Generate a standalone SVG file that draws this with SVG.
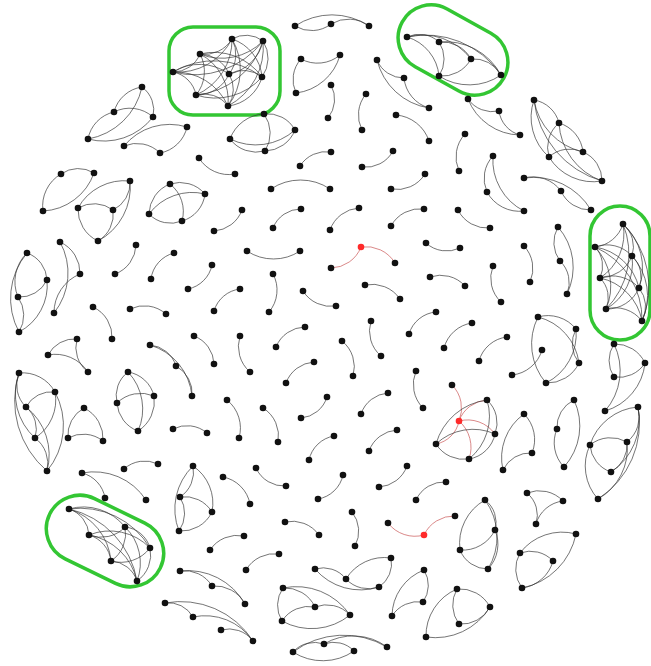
<svg xmlns="http://www.w3.org/2000/svg" width="651" height="666" viewBox="0 0 651 666">
<style>
.bg{fill:#fff}
#edges path{fill:none;stroke:#333;stroke-width:0.8;stroke-opacity:0.85}
#edges path.r{stroke:#c85050}
.nodes circle{fill:#111}
.nodes .red circle{fill:#ff2a2a}
.hl{fill:none;stroke:#33c633;stroke-width:3.5}
</style>
<rect class="bg" x="0" y="0" width="651" height="666"/>
<g id="highlights">
<rect class="hl" x="169" y="27" width="111" height="88" rx="24"/>
<rect class="hl" x="-58" y="-33" width="116" height="66" rx="33" transform="translate(453,50) rotate(29)"/>
<rect class="hl" x="590" y="206" width="60" height="134" rx="30"/>
<rect class="hl" x="-61.5" y="-33.5" width="123" height="67" rx="33.5" transform="translate(105,541) rotate(26)"/>
</g>
<g id="edges">
<path d="M114 112A34 34 0 0 1 142 87"/>
<path d="M142 87A29 29 0 0 1 153 117"/>
<path d="M114 112A35 35 0 0 1 153 117"/>
<path d="M88 139A34 34 0 0 1 114 112"/>
<path d="M142 87A67 67 0 0 1 88 139"/>
<path d="M153 117A62 62 0 0 1 88 139"/>
<path d="M124 146A59 59 0 0 1 187 127"/>
<path d="M124 146A33 33 0 0 1 160 153"/>
<path d="M187 127A34 34 0 0 1 160 153"/>
<path d="M235 174A35 35 0 0 1 199 158"/>
<path d="M232 39A28 28 0 0 1 263 41"/>
<path d="M232 39A32 32 0 0 1 200 54"/>
<path d="M232 39A61 61 0 0 1 173 72"/>
<path d="M232 39A32 32 0 0 1 229 74"/>
<path d="M232 39A44 44 0 0 1 262 77"/>
<path d="M232 39A60 60 0 0 1 196 95"/>
<path d="M232 39A60 60 0 0 1 228 106"/>
<path d="M263 41A58 58 0 0 1 200 54"/>
<path d="M263 41A86 86 0 0 1 173 72"/>
<path d="M263 41A43 43 0 0 1 229 74"/>
<path d="M263 41A32 32 0 0 1 262 77"/>
<path d="M263 41A77 77 0 0 1 196 95"/>
<path d="M263 41A66 66 0 0 1 228 106"/>
<path d="M200 54A29 29 0 0 1 173 72"/>
<path d="M200 54A32 32 0 0 1 229 74"/>
<path d="M200 54A59 59 0 0 1 262 77"/>
<path d="M200 54A37 37 0 0 1 196 95"/>
<path d="M200 54A53 53 0 0 1 228 106"/>
<path d="M173 72A50 50 0 0 1 229 74"/>
<path d="M173 72A80 80 0 0 1 262 77"/>
<path d="M173 72A29 29 0 0 1 196 95"/>
<path d="M173 72A58 58 0 0 1 228 106"/>
<path d="M229 74A30 30 0 0 1 262 77"/>
<path d="M229 74A35 35 0 0 1 196 95"/>
<path d="M229 74A29 29 0 0 1 228 106"/>
<path d="M262 77A62 62 0 0 1 196 95"/>
<path d="M262 77A40 40 0 0 1 228 106"/>
<path d="M196 95A30 30 0 0 1 228 106"/>
<path d="M331 24A32 32 0 0 1 295 26"/>
<path d="M331 24A34 34 0 0 1 369 26"/>
<path d="M295 26A67 67 0 0 1 369 26"/>
<path d="M340 55A35 35 0 0 1 301 59"/>
<path d="M296 93A31 31 0 0 1 301 59"/>
<path d="M340 55A52 52 0 0 1 296 93"/>
<path d="M331 85A30 30 0 0 1 328 118"/>
<path d="M362 130A33 33 0 0 1 366 94"/>
<path d="M404 78A29 29 0 0 1 377 60"/>
<path d="M429 108A64 64 0 0 1 377 60"/>
<path d="M429 108A35 35 0 0 1 404 78"/>
<path d="M396 115A38 38 0 0 1 429 141"/>
<path d="M264 114A31 31 0 0 1 295 130"/>
<path d="M230 139A38 38 0 0 1 264 114"/>
<path d="M264 114A33 33 0 0 1 265 151"/>
<path d="M295 130A59 59 0 0 1 230 139"/>
<path d="M265 151A33 33 0 0 1 230 139"/>
<path d="M295 130A33 33 0 0 1 265 151"/>
<path d="M300 166A31 31 0 0 1 331 152"/>
<path d="M393 151A31 31 0 0 1 362 167"/>
<path d="M407 37A29 29 0 0 1 439 42"/>
<path d="M407 37A61 61 0 0 1 471 59"/>
<path d="M407 37A45 45 0 0 1 439 76"/>
<path d="M407 37A91 91 0 0 1 501 75"/>
<path d="M439 42A33 33 0 0 1 471 59"/>
<path d="M439 42A31 31 0 0 1 439 76"/>
<path d="M439 42A63 63 0 0 1 501 75"/>
<path d="M471 59A33 33 0 0 1 439 76"/>
<path d="M471 59A31 31 0 0 1 501 75"/>
<path d="M501 75A56 56 0 0 1 439 76"/>
<path d="M499 111A30 30 0 0 1 468 99"/>
<path d="M520 135A57 57 0 0 1 468 99"/>
<path d="M520 135A29 29 0 0 1 499 111"/>
<path d="M459 171A34 34 0 0 1 465 134"/>
<path d="M487 192A33 33 0 0 1 493 156"/>
<path d="M524 211A57 57 0 0 1 493 156"/>
<path d="M524 211A37 37 0 0 1 487 192"/>
<path d="M549 157A53 53 0 0 1 534 100"/>
<path d="M534 100A31 31 0 0 1 559 123"/>
<path d="M583 152A64 64 0 0 1 534 100"/>
<path d="M602 181A95 95 0 0 1 534 100"/>
<path d="M549 157A32 32 0 0 1 559 123"/>
<path d="M559 123A34 34 0 0 1 583 152"/>
<path d="M602 181A65 65 0 0 1 559 123"/>
<path d="M549 157A31 31 0 0 1 583 152"/>
<path d="M602 181A52 52 0 0 1 549 157"/>
<path d="M583 152A31 31 0 0 1 602 181"/>
<path d="M524 178A35 35 0 0 1 561 191"/>
<path d="M524 178A67 67 0 0 1 591 210"/>
<path d="M591 210A32 32 0 0 1 561 191"/>
<path d="M61 174A30 30 0 0 1 94 173"/>
<path d="M43 211A37 37 0 0 1 61 174"/>
<path d="M94 173A57 57 0 0 1 43 211"/>
<path d="M78 208A53 53 0 0 1 130 181"/>
<path d="M78 208A32 32 0 0 1 113 210"/>
<path d="M98 241A35 35 0 0 1 78 208"/>
<path d="M113 210A31 31 0 0 1 98 241"/>
<path d="M130 181A61 61 0 0 1 98 241"/>
<path d="M130 181A30 30 0 0 1 113 210"/>
<path d="M149 214A33 33 0 0 1 170 184"/>
<path d="M170 184A35 35 0 0 1 182 221"/>
<path d="M149 214A54 54 0 0 1 205 194"/>
<path d="M182 221A30 30 0 0 1 149 214"/>
<path d="M205 194A32 32 0 0 1 182 221"/>
<path d="M170 184A33 33 0 0 1 205 194"/>
<path d="M27 253A30 30 0 0 1 47 280"/>
<path d="M18 297A40 40 0 0 1 27 253"/>
<path d="M19 332A71 71 0 0 1 27 253"/>
<path d="M47 280A30 30 0 0 1 18 297"/>
<path d="M47 280A53 53 0 0 1 19 332"/>
<path d="M18 297A32 32 0 0 1 19 332"/>
<path d="M60 242A34 34 0 0 1 80 274"/>
<path d="M60 242A64 64 0 0 1 54 313"/>
<path d="M54 313A42 42 0 0 1 80 274"/>
<path d="M136 245A32 32 0 0 1 115 274"/>
<path d="M151 279A31 31 0 0 1 174 253"/>
<path d="M212 265A31 31 0 0 1 188 289"/>
<path d="M93 307A33 33 0 0 1 112 339"/>
<path d="M130 309A33 33 0 0 1 166 314"/>
<path d="M214 311A31 31 0 0 1 240 289"/>
<path d="M242 210A32 32 0 0 1 214 231"/>
<path d="M271 189A53 53 0 0 1 330 189"/>
<path d="M425 174A33 33 0 0 1 391 189"/>
<path d="M273 228A30 30 0 0 1 301 209"/>
<path d="M330 230A33 33 0 0 1 359 208"/>
<path d="M391 226A33 33 0 0 1 424 209"/>
<path d="M300 251A48 48 0 0 1 247 251"/>
<path class="r" d="M361 247A33 33 0 0 1 331 268"/>
<path class="r" d="M361 247A34 34 0 0 1 395 263"/>
<path d="M460 248A31 31 0 0 1 426 243"/>
<path d="M273 274A34 34 0 0 1 269 312"/>
<path d="M336 306A33 33 0 0 1 303 291"/>
<path d="M365 285A34 34 0 0 1 400 299"/>
<path d="M430 277A33 33 0 0 1 465 286"/>
<path d="M381 356A33 33 0 0 1 371 321"/>
<path d="M276 347A32 32 0 0 1 305 327"/>
<path d="M250 372A34 34 0 0 1 240 336"/>
<path d="M490 228A33 33 0 0 1 458 210"/>
<path d="M524 246A33 33 0 0 1 530 282"/>
<path d="M501 302A33 33 0 0 1 493 266"/>
<path d="M560 261A31 31 0 0 1 558 227"/>
<path d="M558 227A61 61 0 0 1 567 294"/>
<path d="M560 261A30 30 0 0 1 567 294"/>
<path d="M623 224A33 33 0 0 1 595 247"/>
<path d="M623 224A30 30 0 0 1 632 256"/>
<path d="M623 224A53 53 0 0 1 600 278"/>
<path d="M623 224A59 59 0 0 1 639 288"/>
<path d="M623 224A78 78 0 0 1 606 309"/>
<path d="M623 224A89 89 0 0 1 642 321"/>
<path d="M595 247A34 34 0 0 1 632 256"/>
<path d="M595 247A28 28 0 0 1 600 278"/>
<path d="M595 247A54 54 0 0 1 639 288"/>
<path d="M595 247A57 57 0 0 1 606 309"/>
<path d="M595 247A79 79 0 0 1 642 321"/>
<path d="M632 256A35 35 0 0 1 600 278"/>
<path d="M632 256A29 29 0 0 1 639 288"/>
<path d="M632 256A53 53 0 0 1 606 309"/>
<path d="M632 256A59 59 0 0 1 642 321"/>
<path d="M600 278A36 36 0 0 1 639 288"/>
<path d="M600 278A28 28 0 0 1 606 309"/>
<path d="M600 278A54 54 0 0 1 642 321"/>
<path d="M639 288A35 35 0 0 1 606 309"/>
<path d="M639 288A30 30 0 0 1 642 321"/>
<path d="M606 309A34 34 0 0 1 642 321"/>
<path d="M48 355A30 30 0 0 1 77 339"/>
<path d="M48 355A39 39 0 0 1 88 372"/>
<path d="M88 372A31 31 0 0 1 77 339"/>
<path d="M150 345A30 30 0 0 1 176 366"/>
<path d="M150 345A59 59 0 0 1 192 396"/>
<path d="M176 366A31 31 0 0 1 192 396"/>
<path d="M194 336A31 31 0 0 1 214 364"/>
<path d="M19 373A37 37 0 0 1 55 392"/>
<path d="M26 407A31 31 0 0 1 19 373"/>
<path d="M35 438A60 60 0 0 1 19 373"/>
<path d="M47 471A92 92 0 0 1 19 373"/>
<path d="M26 407A29 29 0 0 1 55 392"/>
<path d="M55 392A45 45 0 0 1 35 438"/>
<path d="M55 392A71 71 0 0 1 47 471"/>
<path d="M26 407A29 29 0 0 1 35 438"/>
<path d="M26 407A61 61 0 0 1 47 471"/>
<path d="M35 438A32 32 0 0 1 47 471"/>
<path d="M68 438A31 31 0 0 1 84 408"/>
<path d="M84 408A34 34 0 0 1 103 441"/>
<path d="M68 438A32 32 0 0 1 103 441"/>
<path d="M128 372A32 32 0 0 1 154 396"/>
<path d="M117 403A30 30 0 0 1 128 372"/>
<path d="M128 372A54 54 0 0 1 138 431"/>
<path d="M117 403A34 34 0 0 1 154 396"/>
<path d="M154 396A35 35 0 0 1 138 431"/>
<path d="M138 431A32 32 0 0 1 117 403"/>
<path d="M173 429A31 31 0 0 1 207 433"/>
<path d="M124 469A31 31 0 0 1 158 464"/>
<path d="M82 473A31 31 0 0 1 105 498"/>
<path d="M82 473A62 62 0 0 1 146 500"/>
<path d="M193 466A30 30 0 0 1 180 497"/>
<path d="M193 466A45 45 0 0 1 212 512"/>
<path d="M179 531A60 60 0 0 1 193 466"/>
<path d="M180 497A32 32 0 0 1 212 512"/>
<path d="M212 512A34 34 0 0 1 179 531"/>
<path d="M180 497A31 31 0 0 1 179 531"/>
<path d="M286 383A32 32 0 0 1 314 362"/>
<path d="M342 341A33 33 0 0 1 353 376"/>
<path d="M423 408A34 34 0 0 1 416 371"/>
<path d="M227 400A36 36 0 0 1 239 438"/>
<path d="M263 408A33 33 0 0 1 278 442"/>
<path d="M327 397A30 30 0 0 1 301 418"/>
<path d="M361 414A31 31 0 0 1 388 393"/>
<path d="M309 460A31 31 0 0 1 334 436"/>
<path d="M369 451A32 32 0 0 1 397 430"/>
<path d="M286 486A31 31 0 0 1 256 468"/>
<path d="M223 477A34 34 0 0 1 250 504"/>
<path d="M343 475A31 31 0 0 1 318 499"/>
<path d="M407 466A32 32 0 0 1 379 487"/>
<path d="M416 500A31 31 0 0 1 446 482"/>
<path d="M409 334A31 31 0 0 1 436 312"/>
<path d="M444 348A34 34 0 0 1 472 323"/>
<path d="M479 361A33 33 0 0 1 507 337"/>
<path d="M542 350A35 35 0 0 1 512 375"/>
<path d="M546 383A60 60 0 0 1 538 317"/>
<path d="M538 317A55 55 0 0 1 579 363"/>
<path d="M576 329A55 55 0 0 1 546 383"/>
<path d="M579 363A31 31 0 0 1 576 329"/>
<path d="M579 363A35 35 0 0 1 546 383"/>
<path d="M538 317A36 36 0 0 1 576 329"/>
<path d="M614 344A33 33 0 0 1 645 363"/>
<path d="M645 363A31 31 0 0 1 614 377"/>
<path d="M614 377A30 30 0 0 1 614 344"/>
<path d="M614 344A61 61 0 0 1 605 411"/>
<path d="M645 363A56 56 0 0 1 605 411"/>
<path class="r" d="M452 385A33 33 0 0 1 459 421"/>
<path class="r" d="M459 421A32 32 0 0 1 487 400"/>
<path class="r" d="M459 421A34 34 0 0 1 495 434"/>
<path class="r" d="M459 421A29 29 0 0 1 436 444"/>
<path class="r" d="M459 421A35 35 0 0 1 469 459"/>
<path d="M436 444A61 61 0 0 1 487 400"/>
<path d="M487 400A55 55 0 0 1 469 459"/>
<path d="M487 400A31 31 0 0 1 495 434"/>
<path d="M436 444A54 54 0 0 1 495 434"/>
<path d="M469 459A33 33 0 0 1 436 444"/>
<path d="M495 434A32 32 0 0 1 469 459"/>
<path d="M524 414A36 36 0 0 1 532 453"/>
<path d="M503 470A54 54 0 0 1 524 414"/>
<path d="M503 470A30 30 0 0 1 532 453"/>
<path d="M557 429A30 30 0 0 1 574 400"/>
<path d="M574 400A61 61 0 0 1 564 467"/>
<path d="M564 467A35 35 0 0 1 557 429"/>
<path d="M590 445A55 55 0 0 1 638 407"/>
<path d="M638 407A33 33 0 0 1 627 442"/>
<path d="M638 407A63 63 0 0 1 611 472"/>
<path d="M638 407A90 90 0 0 1 598 499"/>
<path d="M590 445A33 33 0 0 1 627 442"/>
<path d="M611 472A31 31 0 0 1 590 445"/>
<path d="M598 499A49 49 0 0 1 590 445"/>
<path d="M627 442A31 31 0 0 1 611 472"/>
<path d="M627 442A58 58 0 0 1 598 499"/>
<path d="M527 493A29 29 0 0 1 536 524"/>
<path d="M527 493A33 33 0 0 1 563 501"/>
<path d="M536 524A32 32 0 0 1 563 501"/>
<path d="M285 522A33 33 0 0 1 319 535"/>
<path d="M352 512A31 31 0 0 1 355 546"/>
<path class="r" d="M424 535A34 34 0 0 1 388 523"/>
<path class="r" d="M424 535A33 33 0 0 1 455 516"/>
<path d="M210 550A33 33 0 0 1 244 536"/>
<path d="M246 570A33 33 0 0 1 279 554"/>
<path d="M315 569A29 29 0 0 1 346 579"/>
<path d="M379 587A60 60 0 0 1 315 569"/>
<path d="M346 579A45 45 0 0 1 391 558"/>
<path d="M379 587A31 31 0 0 1 346 579"/>
<path d="M391 558A28 28 0 0 1 379 587"/>
<path d="M283 588A33 33 0 0 1 315 607"/>
<path d="M282 621A30 30 0 0 1 283 588"/>
<path d="M315 607A32 32 0 0 1 350 615"/>
<path d="M282 621A32 32 0 0 1 315 607"/>
<path d="M350 615A61 61 0 0 1 282 621"/>
<path d="M283 588A65 65 0 0 1 350 615"/>
<path d="M293 652A29 29 0 0 1 324 644"/>
<path d="M354 651A55 55 0 0 1 293 652"/>
<path d="M324 644A28 28 0 0 1 354 651"/>
<path d="M324 644A57 57 0 0 1 387 647"/>
<path d="M293 652A85 85 0 0 1 387 647"/>
<path d="M392 616A50 50 0 0 1 424 570"/>
<path d="M424 570A29 29 0 0 1 423 602"/>
<path d="M392 616A31 31 0 0 1 423 602"/>
<path d="M426 637A51 51 0 0 1 457 589"/>
<path d="M457 589A34 34 0 0 1 490 607"/>
<path d="M459 624A32 32 0 0 1 457 589"/>
<path d="M490 607A32 32 0 0 1 459 624"/>
<path d="M490 607A64 64 0 0 1 426 637"/>
<path d="M485 500A28 28 0 0 1 495 530"/>
<path d="M460 550A50 50 0 0 1 485 500"/>
<path d="M485 500A62 62 0 0 1 488 569"/>
<path d="M495 530A36 36 0 0 1 460 550"/>
<path d="M495 530A36 36 0 0 1 488 569"/>
<path d="M488 569A30 30 0 0 1 460 550"/>
<path d="M520 553A53 53 0 0 1 576 534"/>
<path d="M576 534A69 69 0 0 1 522 588"/>
<path d="M520 553A31 31 0 0 1 553 561"/>
<path d="M522 588A32 32 0 0 1 520 553"/>
<path d="M553 561A37 37 0 0 1 522 588"/>
<path d="M180 571A32 32 0 0 1 212 586"/>
<path d="M180 571A66 66 0 0 1 245 604"/>
<path d="M212 586A34 34 0 0 1 245 604"/>
<path d="M165 603A28 28 0 0 1 193 617"/>
<path d="M165 603A86 86 0 0 1 253 641"/>
<path d="M193 617A58 58 0 0 1 253 641"/>
<path d="M221 630A30 30 0 0 1 253 641"/>
<path d="M69 509A53 53 0 0 1 125 527"/>
<path d="M69 509A29 29 0 0 1 89 535"/>
<path d="M69 509A81 81 0 0 1 150 548"/>
<path d="M69 509A60 60 0 0 1 111 561"/>
<path d="M69 509A89 89 0 0 1 137 581"/>
<path d="M125 527A33 33 0 0 1 89 535"/>
<path d="M125 527A29 29 0 0 1 150 548"/>
<path d="M125 527A33 33 0 0 1 111 561"/>
<path d="M125 527A50 50 0 0 1 137 581"/>
<path d="M89 535A56 56 0 0 1 150 548"/>
<path d="M89 535A31 31 0 0 1 111 561"/>
<path d="M89 535A60 60 0 0 1 137 581"/>
<path d="M150 548A37 37 0 0 1 111 561"/>
<path d="M150 548A32 32 0 0 1 137 581"/>
<path d="M111 561A29 29 0 0 1 137 581"/>
</g>
<g class="nodes">
<g id="n1"><circle cx="142" cy="87" r="3.3"/></g>
<g id="n2"><circle cx="114" cy="112" r="3.3"/></g>
<g id="n3"><circle cx="153" cy="117" r="3.3"/></g>
<g id="n4"><circle cx="88" cy="139" r="3.3"/></g>
<g id="n5"><circle cx="124" cy="146" r="3.3"/></g>
<g id="n6"><circle cx="160" cy="153" r="3.3"/></g>
<g id="n7"><circle cx="187" cy="127" r="3.3"/></g>
<g id="n8"><circle cx="199" cy="158" r="3.3"/></g>
<g id="n9"><circle cx="235" cy="174" r="3.3"/></g>
<g id="n10"><circle cx="232" cy="39" r="3.3"/></g>
<g id="n11"><circle cx="263" cy="41" r="3.3"/></g>
<g id="n12"><circle cx="200" cy="54" r="3.3"/></g>
<g id="n13"><circle cx="173" cy="72" r="3.3"/></g>
<g id="n14"><circle cx="229" cy="74" r="3.3"/></g>
<g id="n15"><circle cx="262" cy="77" r="3.3"/></g>
<g id="n16"><circle cx="196" cy="95" r="3.3"/></g>
<g id="n17"><circle cx="228" cy="106" r="3.3"/></g>
<g id="n18"><circle cx="295" cy="26" r="3.3"/></g>
<g id="n19"><circle cx="331" cy="24" r="3.3"/></g>
<g id="n20"><circle cx="369" cy="26" r="3.3"/></g>
<g id="n21"><circle cx="301" cy="59" r="3.3"/></g>
<g id="n22"><circle cx="340" cy="55" r="3.3"/></g>
<g id="n23"><circle cx="296" cy="93" r="3.3"/></g>
<g id="n24"><circle cx="331" cy="85" r="3.3"/></g>
<g id="n25"><circle cx="328" cy="118" r="3.3"/></g>
<g id="n26"><circle cx="366" cy="94" r="3.3"/></g>
<g id="n27"><circle cx="362" cy="130" r="3.3"/></g>
<g id="n28"><circle cx="377" cy="60" r="3.3"/></g>
<g id="n29"><circle cx="404" cy="78" r="3.3"/></g>
<g id="n30"><circle cx="429" cy="108" r="3.3"/></g>
<g id="n31"><circle cx="396" cy="115" r="3.3"/></g>
<g id="n32"><circle cx="429" cy="141" r="3.3"/></g>
<g id="n33"><circle cx="264" cy="114" r="3.3"/></g>
<g id="n34"><circle cx="295" cy="130" r="3.3"/></g>
<g id="n35"><circle cx="230" cy="139" r="3.3"/></g>
<g id="n36"><circle cx="265" cy="151" r="3.3"/></g>
<g id="n37"><circle cx="331" cy="152" r="3.3"/></g>
<g id="n38"><circle cx="300" cy="166" r="3.3"/></g>
<g id="n39"><circle cx="393" cy="151" r="3.3"/></g>
<g id="n40"><circle cx="362" cy="167" r="3.3"/></g>
<g id="n41"><circle cx="407" cy="37" r="3.3"/></g>
<g id="n42"><circle cx="439" cy="42" r="3.3"/></g>
<g id="n43"><circle cx="471" cy="59" r="3.3"/></g>
<g id="n44"><circle cx="439" cy="76" r="3.3"/></g>
<g id="n45"><circle cx="501" cy="75" r="3.3"/></g>
<g id="n46"><circle cx="468" cy="99" r="3.3"/></g>
<g id="n47"><circle cx="499" cy="111" r="3.3"/></g>
<g id="n48"><circle cx="520" cy="135" r="3.3"/></g>
<g id="n49"><circle cx="465" cy="134" r="3.3"/></g>
<g id="n50"><circle cx="459" cy="171" r="3.3"/></g>
<g id="n51"><circle cx="493" cy="156" r="3.3"/></g>
<g id="n52"><circle cx="487" cy="192" r="3.3"/></g>
<g id="n53"><circle cx="524" cy="211" r="3.3"/></g>
<g id="n54"><circle cx="534" cy="100" r="3.3"/></g>
<g id="n55"><circle cx="559" cy="123" r="3.3"/></g>
<g id="n56"><circle cx="549" cy="157" r="3.3"/></g>
<g id="n57"><circle cx="583" cy="152" r="3.3"/></g>
<g id="n58"><circle cx="602" cy="181" r="3.3"/></g>
<g id="n59"><circle cx="524" cy="178" r="3.3"/></g>
<g id="n60"><circle cx="561" cy="191" r="3.3"/></g>
<g id="n61"><circle cx="591" cy="210" r="3.3"/></g>
<g id="n62"><circle cx="61" cy="174" r="3.3"/></g>
<g id="n63"><circle cx="94" cy="173" r="3.3"/></g>
<g id="n64"><circle cx="43" cy="211" r="3.3"/></g>
<g id="n65"><circle cx="130" cy="181" r="3.3"/></g>
<g id="n66"><circle cx="78" cy="208" r="3.3"/></g>
<g id="n67"><circle cx="113" cy="210" r="3.3"/></g>
<g id="n68"><circle cx="98" cy="241" r="3.3"/></g>
<g id="n69"><circle cx="170" cy="184" r="3.3"/></g>
<g id="n70"><circle cx="205" cy="194" r="3.3"/></g>
<g id="n71"><circle cx="149" cy="214" r="3.3"/></g>
<g id="n72"><circle cx="182" cy="221" r="3.3"/></g>
<g id="n73"><circle cx="27" cy="253" r="3.3"/></g>
<g id="n74"><circle cx="47" cy="280" r="3.3"/></g>
<g id="n75"><circle cx="18" cy="297" r="3.3"/></g>
<g id="n76"><circle cx="19" cy="332" r="3.3"/></g>
<g id="n77"><circle cx="60" cy="242" r="3.3"/></g>
<g id="n78"><circle cx="80" cy="274" r="3.3"/></g>
<g id="n79"><circle cx="54" cy="313" r="3.3"/></g>
<g id="n80"><circle cx="136" cy="245" r="3.3"/></g>
<g id="n81"><circle cx="115" cy="274" r="3.3"/></g>
<g id="n82"><circle cx="174" cy="253" r="3.3"/></g>
<g id="n83"><circle cx="151" cy="279" r="3.3"/></g>
<g id="n84"><circle cx="212" cy="265" r="3.3"/></g>
<g id="n85"><circle cx="188" cy="289" r="3.3"/></g>
<g id="n86"><circle cx="93" cy="307" r="3.3"/></g>
<g id="n87"><circle cx="112" cy="339" r="3.3"/></g>
<g id="n88"><circle cx="130" cy="309" r="3.3"/></g>
<g id="n89"><circle cx="166" cy="314" r="3.3"/></g>
<g id="n90"><circle cx="214" cy="311" r="3.3"/></g>
<g id="n91"><circle cx="240" cy="289" r="3.3"/></g>
<g id="n92"><circle cx="214" cy="231" r="3.3"/></g>
<g id="n93"><circle cx="242" cy="210" r="3.3"/></g>
<g id="n94"><circle cx="271" cy="189" r="3.3"/></g>
<g id="n95"><circle cx="330" cy="189" r="3.3"/></g>
<g id="n96"><circle cx="425" cy="174" r="3.3"/></g>
<g id="n97"><circle cx="391" cy="189" r="3.3"/></g>
<g id="n98"><circle cx="301" cy="209" r="3.3"/></g>
<g id="n99"><circle cx="273" cy="228" r="3.3"/></g>
<g id="n100"><circle cx="359" cy="208" r="3.3"/></g>
<g id="n101"><circle cx="330" cy="230" r="3.3"/></g>
<g id="n102"><circle cx="424" cy="209" r="3.3"/></g>
<g id="n103"><circle cx="391" cy="226" r="3.3"/></g>
<g id="n104"><circle cx="247" cy="251" r="3.3"/></g>
<g id="n105"><circle cx="300" cy="251" r="3.3"/></g>
<g id="n106" class="red"><circle cx="361" cy="247" r="3.3"/></g>
<g id="n107"><circle cx="331" cy="268" r="3.3"/></g>
<g id="n108"><circle cx="395" cy="263" r="3.3"/></g>
<g id="n109"><circle cx="426" cy="243" r="3.3"/></g>
<g id="n110"><circle cx="460" cy="248" r="3.3"/></g>
<g id="n111"><circle cx="273" cy="274" r="3.3"/></g>
<g id="n112"><circle cx="269" cy="312" r="3.3"/></g>
<g id="n113"><circle cx="303" cy="291" r="3.3"/></g>
<g id="n114"><circle cx="336" cy="306" r="3.3"/></g>
<g id="n115"><circle cx="365" cy="285" r="3.3"/></g>
<g id="n116"><circle cx="400" cy="299" r="3.3"/></g>
<g id="n117"><circle cx="430" cy="277" r="3.3"/></g>
<g id="n118"><circle cx="465" cy="286" r="3.3"/></g>
<g id="n119"><circle cx="371" cy="321" r="3.3"/></g>
<g id="n120"><circle cx="381" cy="356" r="3.3"/></g>
<g id="n121"><circle cx="305" cy="327" r="3.3"/></g>
<g id="n122"><circle cx="276" cy="347" r="3.3"/></g>
<g id="n123"><circle cx="240" cy="336" r="3.3"/></g>
<g id="n124"><circle cx="250" cy="372" r="3.3"/></g>
<g id="n125"><circle cx="458" cy="210" r="3.3"/></g>
<g id="n126"><circle cx="490" cy="228" r="3.3"/></g>
<g id="n127"><circle cx="524" cy="246" r="3.3"/></g>
<g id="n128"><circle cx="530" cy="282" r="3.3"/></g>
<g id="n129"><circle cx="493" cy="266" r="3.3"/></g>
<g id="n130"><circle cx="501" cy="302" r="3.3"/></g>
<g id="n131"><circle cx="558" cy="227" r="3.3"/></g>
<g id="n132"><circle cx="560" cy="261" r="3.3"/></g>
<g id="n133"><circle cx="567" cy="294" r="3.3"/></g>
<g id="n134"><circle cx="623" cy="224" r="3.3"/></g>
<g id="n135"><circle cx="595" cy="247" r="3.3"/></g>
<g id="n136"><circle cx="632" cy="256" r="3.3"/></g>
<g id="n137"><circle cx="600" cy="278" r="3.3"/></g>
<g id="n138"><circle cx="639" cy="288" r="3.3"/></g>
<g id="n139"><circle cx="606" cy="309" r="3.3"/></g>
<g id="n140"><circle cx="642" cy="321" r="3.3"/></g>
<g id="n141"><circle cx="77" cy="339" r="3.3"/></g>
<g id="n142"><circle cx="48" cy="355" r="3.3"/></g>
<g id="n143"><circle cx="88" cy="372" r="3.3"/></g>
<g id="n144"><circle cx="150" cy="345" r="3.3"/></g>
<g id="n145"><circle cx="176" cy="366" r="3.3"/></g>
<g id="n146"><circle cx="192" cy="396" r="3.3"/></g>
<g id="n147"><circle cx="194" cy="336" r="3.3"/></g>
<g id="n148"><circle cx="214" cy="364" r="3.3"/></g>
<g id="n149"><circle cx="19" cy="373" r="3.3"/></g>
<g id="n150"><circle cx="55" cy="392" r="3.3"/></g>
<g id="n151"><circle cx="26" cy="407" r="3.3"/></g>
<g id="n152"><circle cx="35" cy="438" r="3.3"/></g>
<g id="n153"><circle cx="47" cy="471" r="3.3"/></g>
<g id="n154"><circle cx="84" cy="408" r="3.3"/></g>
<g id="n155"><circle cx="68" cy="438" r="3.3"/></g>
<g id="n156"><circle cx="103" cy="441" r="3.3"/></g>
<g id="n157"><circle cx="128" cy="372" r="3.3"/></g>
<g id="n158"><circle cx="154" cy="396" r="3.3"/></g>
<g id="n159"><circle cx="117" cy="403" r="3.3"/></g>
<g id="n160"><circle cx="138" cy="431" r="3.3"/></g>
<g id="n161"><circle cx="173" cy="429" r="3.3"/></g>
<g id="n162"><circle cx="207" cy="433" r="3.3"/></g>
<g id="n163"><circle cx="124" cy="469" r="3.3"/></g>
<g id="n164"><circle cx="158" cy="464" r="3.3"/></g>
<g id="n165"><circle cx="82" cy="473" r="3.3"/></g>
<g id="n166"><circle cx="105" cy="498" r="3.3"/></g>
<g id="n167"><circle cx="146" cy="500" r="3.3"/></g>
<g id="n168"><circle cx="193" cy="466" r="3.3"/></g>
<g id="n169"><circle cx="180" cy="497" r="3.3"/></g>
<g id="n170"><circle cx="212" cy="512" r="3.3"/></g>
<g id="n171"><circle cx="179" cy="531" r="3.3"/></g>
<g id="n172"><circle cx="286" cy="383" r="3.3"/></g>
<g id="n173"><circle cx="314" cy="362" r="3.3"/></g>
<g id="n174"><circle cx="342" cy="341" r="3.3"/></g>
<g id="n175"><circle cx="353" cy="376" r="3.3"/></g>
<g id="n176"><circle cx="416" cy="371" r="3.3"/></g>
<g id="n177"><circle cx="423" cy="408" r="3.3"/></g>
<g id="n178"><circle cx="227" cy="400" r="3.3"/></g>
<g id="n179"><circle cx="239" cy="438" r="3.3"/></g>
<g id="n180"><circle cx="263" cy="408" r="3.3"/></g>
<g id="n181"><circle cx="278" cy="442" r="3.3"/></g>
<g id="n182"><circle cx="327" cy="397" r="3.3"/></g>
<g id="n183"><circle cx="301" cy="418" r="3.3"/></g>
<g id="n184"><circle cx="388" cy="393" r="3.3"/></g>
<g id="n185"><circle cx="361" cy="414" r="3.3"/></g>
<g id="n186"><circle cx="334" cy="436" r="3.3"/></g>
<g id="n187"><circle cx="309" cy="460" r="3.3"/></g>
<g id="n188"><circle cx="397" cy="430" r="3.3"/></g>
<g id="n189"><circle cx="369" cy="451" r="3.3"/></g>
<g id="n190"><circle cx="256" cy="468" r="3.3"/></g>
<g id="n191"><circle cx="286" cy="486" r="3.3"/></g>
<g id="n192"><circle cx="223" cy="477" r="3.3"/></g>
<g id="n193"><circle cx="250" cy="504" r="3.3"/></g>
<g id="n194"><circle cx="343" cy="475" r="3.3"/></g>
<g id="n195"><circle cx="318" cy="499" r="3.3"/></g>
<g id="n196"><circle cx="407" cy="466" r="3.3"/></g>
<g id="n197"><circle cx="379" cy="487" r="3.3"/></g>
<g id="n198"><circle cx="416" cy="500" r="3.3"/></g>
<g id="n199"><circle cx="446" cy="482" r="3.3"/></g>
<g id="n200"><circle cx="409" cy="334" r="3.3"/></g>
<g id="n201"><circle cx="436" cy="312" r="3.3"/></g>
<g id="n202"><circle cx="472" cy="323" r="3.3"/></g>
<g id="n203"><circle cx="444" cy="348" r="3.3"/></g>
<g id="n204"><circle cx="507" cy="337" r="3.3"/></g>
<g id="n205"><circle cx="479" cy="361" r="3.3"/></g>
<g id="n206"><circle cx="512" cy="375" r="3.3"/></g>
<g id="n207"><circle cx="542" cy="350" r="3.3"/></g>
<g id="n208"><circle cx="538" cy="317" r="3.3"/></g>
<g id="n209"><circle cx="576" cy="329" r="3.3"/></g>
<g id="n210"><circle cx="546" cy="383" r="3.3"/></g>
<g id="n211"><circle cx="579" cy="363" r="3.3"/></g>
<g id="n212"><circle cx="614" cy="344" r="3.3"/></g>
<g id="n213"><circle cx="645" cy="363" r="3.3"/></g>
<g id="n214"><circle cx="614" cy="377" r="3.3"/></g>
<g id="n215"><circle cx="605" cy="411" r="3.3"/></g>
<g id="n216" class="red"><circle cx="459" cy="421" r="3.3"/></g>
<g id="n217"><circle cx="452" cy="385" r="3.3"/></g>
<g id="n218"><circle cx="487" cy="400" r="3.3"/></g>
<g id="n219"><circle cx="495" cy="434" r="3.3"/></g>
<g id="n220"><circle cx="436" cy="444" r="3.3"/></g>
<g id="n221"><circle cx="469" cy="459" r="3.3"/></g>
<g id="n222"><circle cx="524" cy="414" r="3.3"/></g>
<g id="n223"><circle cx="532" cy="453" r="3.3"/></g>
<g id="n224"><circle cx="503" cy="470" r="3.3"/></g>
<g id="n225"><circle cx="574" cy="400" r="3.3"/></g>
<g id="n226"><circle cx="557" cy="429" r="3.3"/></g>
<g id="n227"><circle cx="564" cy="467" r="3.3"/></g>
<g id="n228"><circle cx="638" cy="407" r="3.3"/></g>
<g id="n229"><circle cx="590" cy="445" r="3.3"/></g>
<g id="n230"><circle cx="627" cy="442" r="3.3"/></g>
<g id="n231"><circle cx="611" cy="472" r="3.3"/></g>
<g id="n232"><circle cx="598" cy="499" r="3.3"/></g>
<g id="n233"><circle cx="527" cy="493" r="3.3"/></g>
<g id="n234"><circle cx="536" cy="524" r="3.3"/></g>
<g id="n235"><circle cx="563" cy="501" r="3.3"/></g>
<g id="n236"><circle cx="285" cy="522" r="3.3"/></g>
<g id="n237"><circle cx="319" cy="535" r="3.3"/></g>
<g id="n238"><circle cx="352" cy="512" r="3.3"/></g>
<g id="n239"><circle cx="355" cy="546" r="3.3"/></g>
<g id="n240"><circle cx="388" cy="523" r="3.3"/></g>
<g id="n241" class="red"><circle cx="424" cy="535" r="3.3"/></g>
<g id="n242"><circle cx="455" cy="516" r="3.3"/></g>
<g id="n243"><circle cx="210" cy="550" r="3.3"/></g>
<g id="n244"><circle cx="244" cy="536" r="3.3"/></g>
<g id="n245"><circle cx="279" cy="554" r="3.3"/></g>
<g id="n246"><circle cx="246" cy="570" r="3.3"/></g>
<g id="n247"><circle cx="315" cy="569" r="3.3"/></g>
<g id="n248"><circle cx="346" cy="579" r="3.3"/></g>
<g id="n249"><circle cx="379" cy="587" r="3.3"/></g>
<g id="n250"><circle cx="391" cy="558" r="3.3"/></g>
<g id="n251"><circle cx="283" cy="588" r="3.3"/></g>
<g id="n252"><circle cx="315" cy="607" r="3.3"/></g>
<g id="n253"><circle cx="350" cy="615" r="3.3"/></g>
<g id="n254"><circle cx="282" cy="621" r="3.3"/></g>
<g id="n255"><circle cx="293" cy="652" r="3.3"/></g>
<g id="n256"><circle cx="324" cy="644" r="3.3"/></g>
<g id="n257"><circle cx="354" cy="651" r="3.3"/></g>
<g id="n258"><circle cx="387" cy="647" r="3.3"/></g>
<g id="n259"><circle cx="392" cy="616" r="3.3"/></g>
<g id="n260"><circle cx="424" cy="570" r="3.3"/></g>
<g id="n261"><circle cx="423" cy="602" r="3.3"/></g>
<g id="n262"><circle cx="426" cy="637" r="3.3"/></g>
<g id="n263"><circle cx="457" cy="589" r="3.3"/></g>
<g id="n264"><circle cx="490" cy="607" r="3.3"/></g>
<g id="n265"><circle cx="459" cy="624" r="3.3"/></g>
<g id="n266"><circle cx="485" cy="500" r="3.3"/></g>
<g id="n267"><circle cx="495" cy="530" r="3.3"/></g>
<g id="n268"><circle cx="460" cy="550" r="3.3"/></g>
<g id="n269"><circle cx="488" cy="569" r="3.3"/></g>
<g id="n270"><circle cx="576" cy="534" r="3.3"/></g>
<g id="n271"><circle cx="520" cy="553" r="3.3"/></g>
<g id="n272"><circle cx="553" cy="561" r="3.3"/></g>
<g id="n273"><circle cx="522" cy="588" r="3.3"/></g>
<g id="n274"><circle cx="180" cy="571" r="3.3"/></g>
<g id="n275"><circle cx="212" cy="586" r="3.3"/></g>
<g id="n276"><circle cx="245" cy="604" r="3.3"/></g>
<g id="n277"><circle cx="165" cy="603" r="3.3"/></g>
<g id="n278"><circle cx="193" cy="617" r="3.3"/></g>
<g id="n279"><circle cx="221" cy="630" r="3.3"/></g>
<g id="n280"><circle cx="253" cy="641" r="3.3"/></g>
<g id="n281"><circle cx="69" cy="509" r="3.3"/></g>
<g id="n282"><circle cx="125" cy="527" r="3.3"/></g>
<g id="n283"><circle cx="89" cy="535" r="3.3"/></g>
<g id="n284"><circle cx="150" cy="548" r="3.3"/></g>
<g id="n285"><circle cx="111" cy="561" r="3.3"/></g>
<g id="n286"><circle cx="137" cy="581" r="3.3"/></g>
</g>
</svg>
